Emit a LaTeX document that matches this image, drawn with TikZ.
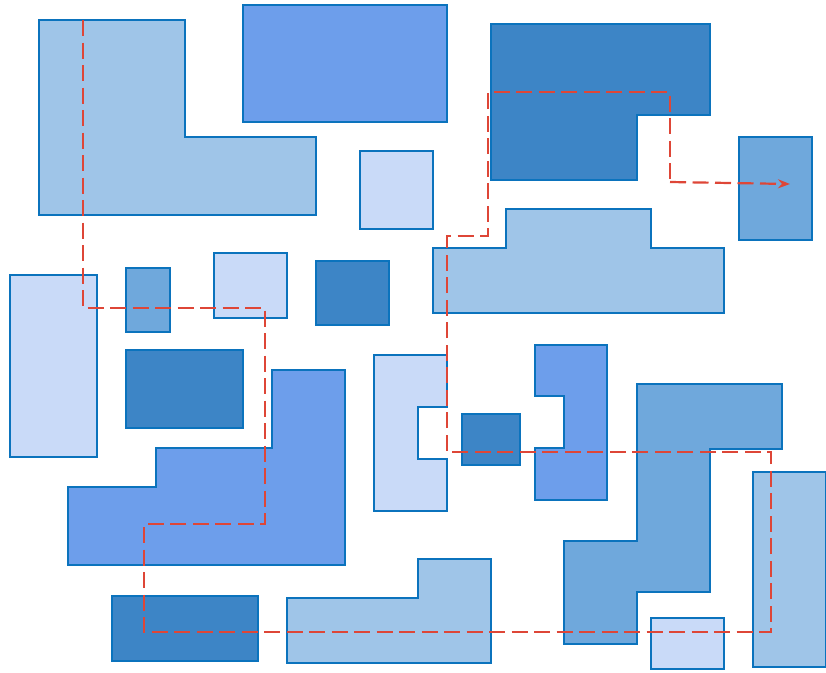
\documentclass[tikz,border=0pt]{standalone}
\usetikzlibrary{arrows.meta}
\definecolor{cLight}{HTML}{9FC5E8}
\definecolor{cMed}{HTML}{6D9EEB}
\definecolor{cDark}{HTML}{3D85C6}
\definecolor{cPale}{HTML}{C9DAF8}
\definecolor{cMid}{HTML}{6FA8DC}
\definecolor{cEdge}{HTML}{0B73BD}
\definecolor{cPath}{HTML}{DE4637}
\begin{document}
\begin{tikzpicture}[x=1pt,y=-1pt,
  obst/.style={draw=cEdge,line width=2.2pt,line join=miter},
  route/.style={draw=cPath,line width=2.2pt,dash pattern=on 16pt off 6.5pt}]
\useasboundingbox (0,0) rectangle (826,672);
% obstacles
\filldraw[obst,fill=cLight] (39,20)--(185,20)--(185,137)--(316,137)--(316,215)--(39,215)--cycle;
\filldraw[obst,fill=cMed] (243,5) rectangle (447,122);
\filldraw[obst,fill=cDark] (491,24)--(710,24)--(710,115)--(637,115)--(637,180)--(491,180)--cycle;
\filldraw[obst,fill=cPale] (360,151) rectangle (433,229);
\filldraw[obst,fill=cMid] (739,137) rectangle (812,240);
\filldraw[obst,fill=cLight] (433,248)--(506,248)--(506,209)--(651,209)--(651,248)--(724,248)--(724,313)--(433,313)--cycle;
\filldraw[obst,fill=cPale] (10,275) rectangle (97,457);
\filldraw[obst,fill=cMid] (126,268) rectangle (170,332);
\filldraw[obst,fill=cPale] (214,253) rectangle (287,318);
\filldraw[obst,fill=cDark] (316,261) rectangle (389,325);
\filldraw[obst,fill=cDark] (126,350) rectangle (243,428);
\filldraw[obst,fill=cMed] (68,487)--(156,487)--(156,448)--(272,448)--(272,370)--(345,370)--(345,565)--(68,565)--cycle;
\filldraw[obst,fill=cPale] (374,355)--(447,355)--(447,407)--(418,407)--(418,459)--(447,459)--(447,511)--(374,511)--cycle;
\filldraw[obst,fill=cDark] (462,414) rectangle (520,465);
\filldraw[obst,fill=cMed] (535,345)--(607,345)--(607,500)--(535,500)--(535,448)--(564,448)--(564,396)--(535,396)--cycle;
\filldraw[obst,fill=cMid] (637,384)--(782,384)--(782,449)--(710,449)--(710,592)--(637,592)--(637,644)--(564,644)--(564,541)--(637,541)--cycle;
\filldraw[obst,fill=cLight] (753,472) rectangle (826,667);
\filldraw[obst,fill=cPale] (651,618) rectangle (724,669);
\filldraw[obst,fill=cDark] (112,596) rectangle (258,661);
\filldraw[obst,fill=cLight] (287,598)--(418,598)--(418,559)--(491,559)--(491,663)--(287,663)--cycle;
% path
\coordinate (s) at (83,20);
\coordinate (t) at (670,182);
\coordinate (g) at (790,184);
\draw[route] (s)--(83,308)--(265,308)--(265,524)--(144,524)--(144,632)--(771,632)--(771,452)--(447,452)--(447,236)--(488,236)--(488,92)--(670,92)--(t);
\draw[route,-{Stealth[length=12pt,width=9pt,fill=cPath]}] (t)--(g);
\end{tikzpicture}
\end{document}
